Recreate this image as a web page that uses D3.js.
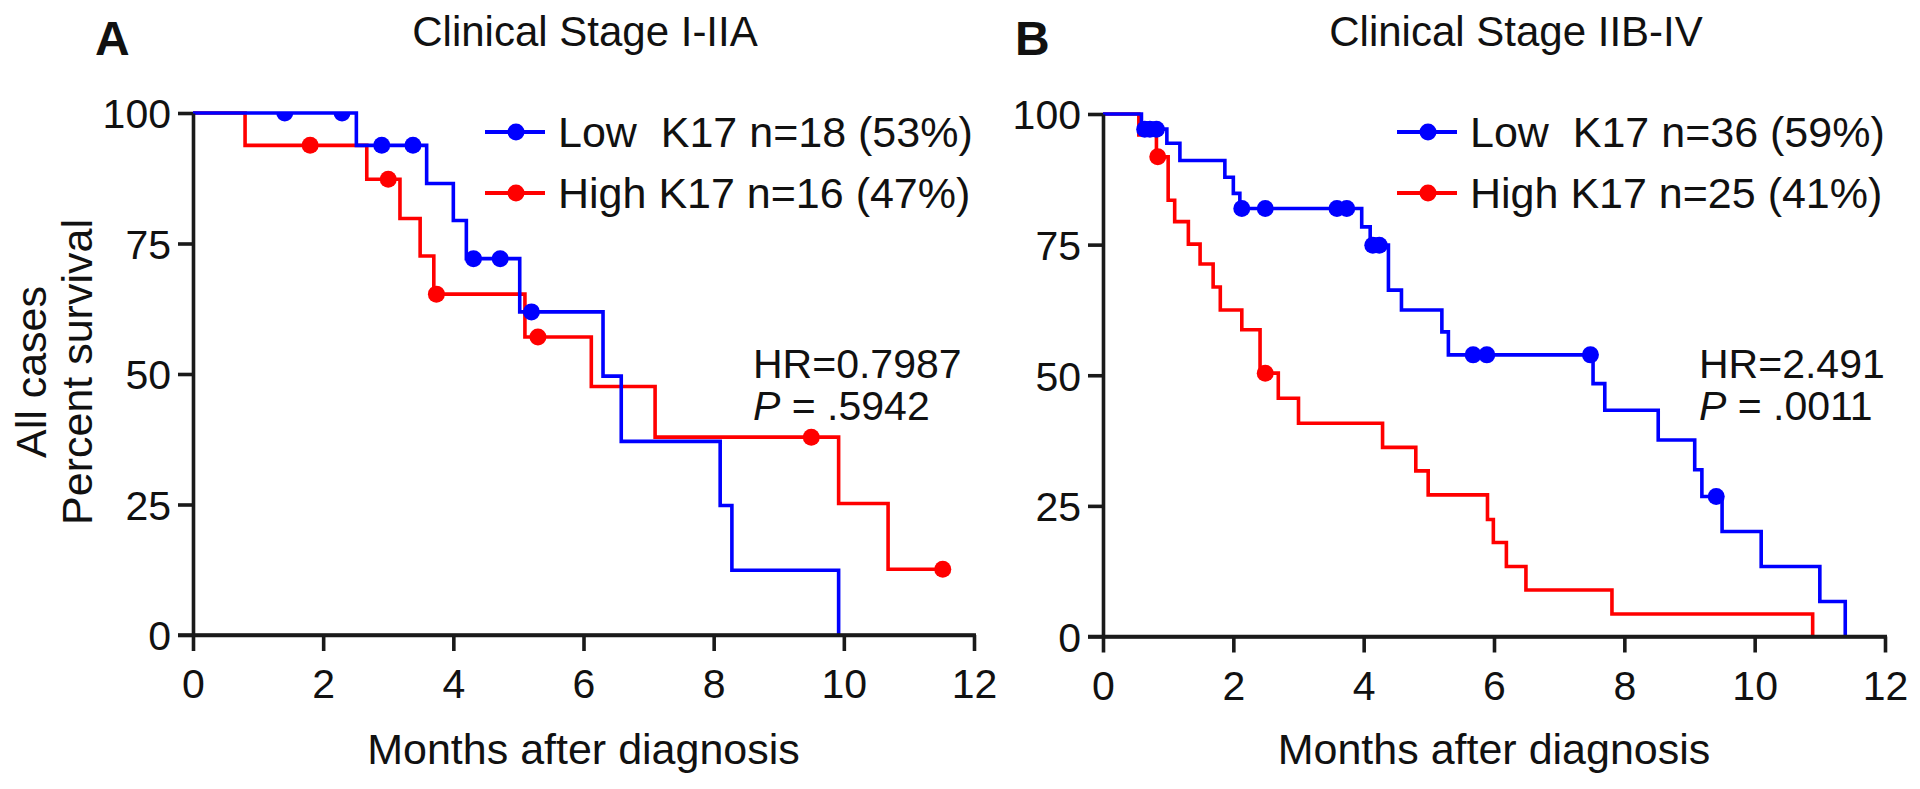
<!DOCTYPE html>
<html><head><meta charset="utf-8">
<script src="https://cdn.jsdelivr.net/npm/d3@7"></script>
<style>
body{margin:0;background:#fff}
svg text{font-family:"Liberation Sans",Arial,sans-serif;fill:#111}
</style>
</head><body>
<svg id="chart" width="1920" height="789"></svg>
<script>
// ---------- data ----------
const xTicks = [0, 2, 4, 6, 8, 10, 12];
const yTicks = [0, 25, 50, 75, 100];
const panelLetters = ["A", "B"];
const panelTitles = ["Clinical Stage I-IIA", "Clinical Stage IIB-IV"];
const legendLabelsA = ["Low  K17 n=18 (53%)", "High K17 n=16 (47%)"];
const legendLabelsB = ["Low  K17 n=36 (59%)", "High K17 n=25 (41%)"];
const hrTexts = ["HR=0.7987", "HR=2.491"];
const pValues = [".5942", ".0011"];
const xTitle = "Months after diagnosis";
const yTitleLines = ["All cases", "Percent survival"];

// Panel A – Low K17
const aLowTime = [0, 2.51, 3.59, 4.0, 4.2, 5.02, 6.3, 6.58, 8.1, 8.28, 9.92];
const aLowSurv = [100, 93.8, 86.5, 79.4, 72.1, 61.9, 49.6, 37.1, 24.8, 12.4, 0];
const aLowCens = [1.41, 2.29, 2.90, 3.38, 4.31, 4.72, 5.2];
// Panel A – High K17
const aHighTime = [0, 0.8, 2.67, 3.18, 3.49, 3.70, 5.1, 6.12, 7.1, 9.92, 10.68, 11.52];
const aHighSurv = [100, 93.8, 87.3, 79.8, 72.6, 65.3, 57.1, 47.6, 37.9, 25.2, 12.6, 12.6];
const aHighCens = [1.8, 3.0, 3.74, 5.3, 9.5, 11.52];

// Panel B – Low K17
const bLowTime = [0, 0.59, 0.98, 1.18, 1.87, 2.0, 2.10, 3.97, 4.10, 4.38, 4.58, 5.20, 5.30, 7.52, 7.70, 8.52, 9.08, 9.19, 9.50, 10.10, 11.0, 11.39];
const bLowSurv = [100, 97.1, 94.4, 91.1, 87.9, 84.8, 81.9, 78.4, 74.9, 66.3, 62.5, 58.3, 53.9, 48.4, 43.3, 37.6, 31.9, 26.8, 20.1, 13.4, 6.7, 0];
const bLowCens = [0.64, 0.72, 0.82, 2.13, 2.49, 3.59, 3.74, 4.14, 4.24, 5.68, 5.89, 7.48, 9.41];
// Panel B – High K17
const bHighTime = [0, 0.55, 0.82, 1.0, 1.10, 1.31, 1.49, 1.69, 1.80, 2.13, 2.41, 2.69, 3.0, 4.29, 4.80, 4.99, 5.90, 5.99, 6.19, 6.49, 7.81, 10.89];
const bHighSurv = [100, 96, 91.8, 83.5, 79.4, 75.1, 71.3, 66.9, 62.5, 58.7, 50.4, 45.6, 40.8, 36.2, 31.7, 27.1, 22.4, 18.0, 13.4, 8.9, 4.3, 0];
const bHighCens = [0.84, 2.49];

const BLUE = "#0000ff", RED = "#ff0000";

// ---------- layout ----------
const svg = d3.select("#chart");
svg.append("rect").attr("width", 1920).attr("height", 789).attr("fill", "#fff");

const panels = [
  { x0: 193, x1: 974, yTop: 113, yBot: 635, letterX: 95, titleX: 585, legX: 485, hrX: 753,
    legend: legendLabelsA, hr: hrTexts[0], p: pValues[0],
    series: [
      { time: aHighTime, surv: aHighSurv, cens: aHighCens, color: RED },
      { time: aLowTime, surv: aLowSurv, cens: aLowCens, color: BLUE } ] },
  { x0: 1103, x1: 1885, yTop: 114, yBot: 636.5, letterX: 1015, titleX: 1516, legX: 1397, hrX: 1699,
    legend: legendLabelsB, hr: hrTexts[1], p: pValues[1],
    series: [
      { time: bHighTime, surv: bHighSurv, cens: bHighCens, color: RED },
      { time: bLowTime, surv: bLowSurv, cens: bLowCens, color: BLUE } ] }
];

function survAt(time, surv, t) {
  let v = surv[0];
  for (let i = 0; i < time.length; i++) if (time[i] <= t) v = surv[i];
  return v;
}

panels.forEach((P, pi) => {
  const x = d3.scaleLinear().domain([0, 12]).range([P.x0, P.x1]);
  const y = d3.scaleLinear().domain([0, 100]).range([P.yBot, P.yTop]);
  const g = svg.append("g");

  // clip for censor marks (nothing above 100%)
  const clipId = "clip" + pi;
  svg.append("clipPath").attr("id", clipId).append("rect")
    .attr("x", P.x0 - 30).attr("y", P.yTop).attr("width", P.x1 - P.x0 + 60).attr("height", P.yBot - P.yTop + 30);

  // curves
  const line = d3.line().x(d => x(d[0])).y(d => y(d[1])).curve(d3.curveStepAfter);
  P.series.forEach(s => {
    const pts = s.time.map((t, i) => [t, s.surv[i]]);
    g.append("path").attr("d", line(pts)).attr("fill", "none")
      .attr("stroke", s.color).attr("stroke-width", 3.6).attr("stroke-linejoin", "miter");
  });
  P.series.forEach(s => {
    g.append("g").attr("clip-path", `url(#${clipId})`).selectAll("circle").data(s.cens).join("circle")
      .attr("cx", t => x(t)).attr("cy", t => y(survAt(s.time, s.surv, t)))
      .attr("r", 8.5).attr("fill", s.color);
  });

  // axes
  const yAxis = d3.axisLeft(y).tickValues(yTicks).tickSize(15).tickSizeOuter(0).tickPadding(7);
  const xAxis = d3.axisBottom(x).tickValues(xTicks).tickSize(16).tickSizeOuter(0).tickPadding(18);
  const gy = g.append("g").attr("transform", `translate(${P.x0},0)`).call(yAxis);
  const gx = g.append("g").attr("transform", `translate(0,${P.yBot})`).call(xAxis);
  [gx, gy].forEach(a => {
    a.attr("font-family", null).attr("font-size", null);
    a.selectAll("path,line").attr("stroke", "#1a1a1a").attr("stroke-width", 3.6);
    a.selectAll("text").attr("fill", "#111").style("font-size", "41px");
  });
  gy.selectAll("text").attr("dy", "0.36em");
  // extend x-axis line to meet y tick on the left
  g.append("line").attr("x1", P.x0 - 15).attr("x2", P.x1 + 2).attr("y1", P.yBot).attr("y2", P.yBot)
    .attr("stroke", "#1a1a1a").attr("stroke-width", 3.6);

  // panel letter & title
  svg.append("text").attr("x", P.letterX).attr("y", 55).text(panelLetters[pi])
    .style("font-size", "48px").style("font-weight", "bold");
  svg.append("text").attr("x", P.titleX).attr("y", 46).attr("text-anchor", "middle")
    .text(panelTitles[pi]).style("font-size", "42px");

  // x title
  svg.append("text").attr("x", (P.x0 + P.x1) / 2).attr("y", 764).attr("text-anchor", "middle")
    .text(xTitle).style("font-size", "43px");

  // legend
  const legColors = [BLUE, RED];
  const legY = [132, 193];
  P.legend.forEach((lab, i) => {
    const lg = svg.append("g");
    lg.append("line").attr("x1", P.legX).attr("x2", P.legX + 60).attr("y1", legY[i]).attr("y2", legY[i])
      .attr("stroke", legColors[i]).attr("stroke-width", 4);
    lg.append("circle").attr("cx", P.legX + 31).attr("cy", legY[i]).attr("r", 8.5).attr("fill", legColors[i]);
    lg.append("text").attr("x", P.legX + 73).attr("y", legY[i] + 15)
      .attr("xml:space", "preserve").style("white-space", "pre")
      .style("font-size", "43px").text(lab);
  });

  // HR and P
  svg.append("text").attr("x", P.hrX).attr("y", 378).text(P.hr).style("font-size", "41px");
  const pt = svg.append("text").attr("x", P.hrX).attr("y", 420).style("font-size", "41px")
    .attr("xml:space", "preserve").style("white-space", "pre");
  pt.append("tspan").style("font-style", "italic").text("P");
  pt.append("tspan").text(" = " + P.p);
});

// y-axis title (panel A only)
const yt = svg.append("g").attr("transform", "translate(0,372) rotate(-90)");
yt.append("text").attr("x", 0).attr("y", 46).attr("text-anchor", "middle").text(yTitleLines[0]).style("font-size", "43px");
yt.append("text").attr("x", 0).attr("y", 92).attr("text-anchor", "middle").text(yTitleLines[1]).style("font-size", "43px");
</script>
</body></html>
